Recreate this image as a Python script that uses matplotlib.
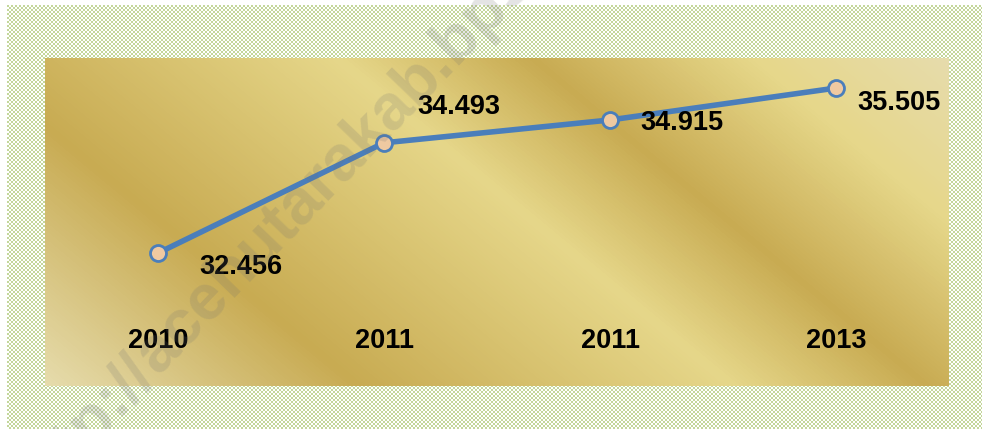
import numpy as np
import matplotlib.pyplot as plt
from matplotlib.colors import LinearSegmentedColormap

plt.rcParams['font.family'] = ['Liberation Sans', 'DejaVu Sans']

years = ['2010', '2011', '2011', '2013']
values = [32.456, 34.493, 34.915, 35.505]
# where each value label sits relative to its point (points)
label_offsets = [(60, -10), (54, 26), (52, -2), (45, -11)]

W, H = 982, 429
fig = plt.figure(figsize=(W / 100, H / 100), dpi=100)

# checkered green/white page background, drawn pixel for pixel
yy, xx = np.mgrid[0:H, 0:W]
chk = ((xx - 7) // 2 + (yy - 5) // 2) % 2 == 0
img = np.ones((H, W, 3))
img[chk] = np.array([196, 215, 155]) / 255
img[(xx < 7) | (yy < 5)] = 1
fig.figimage(img, xo=0, yo=0, origin='upper', zorder=-1)

# plot area with gold gradient fill
L, R, T, B = 45, 949, 58, 386
ax = fig.add_axes([L / W, (H - B) / H, (R - L) / W, (B - T) / H])
ax.set_zorder(2)
ax.set_xlim(-0.5, 3.5)
ax.set_ylim(30.0, 36.06)

gy, gx = np.mgrid[0:B - T, 0:R - L]
u = 0.83 * gx - gy
u = (u - u.min()) / (u.max() - u.min())
gold = LinearSegmentedColormap.from_list('gold', [
    (0.0, '#E6DCAC'), (0.24, '#C8AB52'), (0.53, '#E6D78A'),
    (0.68, '#C8AB52'), (0.85, '#E6D78A'), (1.0, '#E6DCAC')])
ax.imshow(u, cmap=gold, aspect='auto', extent=(-0.5, 3.5, 30.0, 36.06),
          zorder=0, interpolation='bilinear')

x = np.arange(len(values))
ax.plot(x, values, color='#4A7EBB', lw=4, marker='o', ms=11.5,
        mfc='#EFC9A1', mec='#4A7EBB', mew=2, zorder=3)

for xi, v, off in zip(x, values, label_offsets):
    ax.annotate(f'{v:.3f}', (xi, v), xytext=off, textcoords='offset points',
                ha='center', va='center', fontsize=19.5, fontweight='bold',
                color='black', zorder=4)

for xi, yr in zip(x, years):
    ax.text(xi, 0.138, yr, transform=ax.get_xaxis_transform(), ha='center',
            va='center', fontsize=19.5, fontweight='bold', color='black')

ax.axis('off')

# faint diagonal watermark, split so the host part anchors at the "a"
wm = dict(rotation=46, rotation_mode='anchor', va='baseline', fontsize=46,
          fontweight='bold', color='#707070', alpha=0.19, zorder=5)
fig.text(0.1606, 0.1235, 'http://', ha='right', **wm)
fig.text(0.1606, 0.1235, 'acehutarakab.bps.go.id', ha='left', **wm)

fig.savefig('out.png', dpi=100)
